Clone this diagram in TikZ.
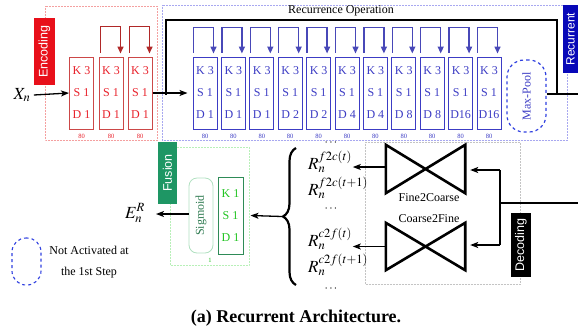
\documentclass[tikz,border=0pt]{standalone}
\usepackage{mathptmx}
\usepackage{fontspec}
\setmainfont{Liberation Serif}
\newfontfamily\lblsans{Liberation Sans}
\usetikzlibrary{arrows.meta,calc,decorations.pathreplacing}
\definecolor{encred}{HTML}{E8101A}
\definecolor{rbox}{HTML}{CC4848}
\definecolor{rtext}{HTML}{E8202A}
\definecolor{rloop}{HTML}{B02828}
\definecolor{rframe}{HTML}{F4A0A0}
\definecolor{bbox}{HTML}{3C3CC4}
\definecolor{bloop}{HTML}{4848B8}
\definecolor{bframe}{HTML}{A8A8F0}
\definecolor{recblue}{HTML}{0808B8}
\definecolor{dashblue}{HTML}{3040E0}
\definecolor{fusgreen}{HTML}{1E9664}
\definecolor{gborder}{HTML}{2E8B57}
\definecolor{gtext}{HTML}{22C422}
\definecolor{sigborder}{HTML}{B0E0C0}
\definecolor{sigtext}{HTML}{2E7A50}
\definecolor{fframe}{HTML}{B8F0B8}
\definecolor{dframe}{HTML}{C4C4C4}
\tikzset{
  kbox/.style={draw, line width=1pt, minimum width=24pt, minimum height=72pt, inner sep=0pt, align=center, font=\fontsize{12}{22}\selectfont},
  redbox/.style={kbox, draw=rbox, text=rtext},
  bluebox/.style={kbox, draw=bbox, text=bbox},
  numlbl/.style={font=\fontsize{6.5}{7}\selectfont, inner sep=0pt},
  rlooparr/.style={draw=rloop, line width=1.5pt, -{Triangle[length=7pt,width=6pt]}},
  blooparr/.style={draw=bloop, line width=1.5pt, -{Triangle[length=7pt,width=6pt]}},
  tag/.style={rotate=90, text=white, font=\lblsans\fontsize{12.5}{14}\selectfont, inner sep=0pt, anchor=center},
  frame/.style={densely dotted, line width=0.5pt},
  blk/.style={line width=1.3pt, -{Stealth[length=8pt,width=6pt,inset=2pt]}},
  bow/.style={line width=2.6pt, line join=miter},
  rlbl/.style={anchor=west, font=\fontsize{17}{18}\selectfont, inner sep=0pt},
}
\begin{document}
\begin{tikzpicture}[x=1pt,y=-1pt]
\useasboundingbox (0,0) rectangle (578,333);
% frames
\draw[frame, draw=rframe] (45,6) rectangle (157,140);
\draw[frame, draw=bframe] (162,5) rectangle (567,140);
\draw[frame, draw=fframe] (170,147) rectangle (249,265);
\draw[frame, draw=dframe] (365,142) rectangle (520,284);
% labels
\node[fill=encred, minimum width=21pt, minimum height=67pt, inner sep=0pt] (enc) at (44.5,51.5) {};
\node[tag] at (enc) {Encoding};
\node[fill=recblue, minimum width=15pt, minimum height=68pt, inner sep=0pt] (rec) at (570.5,39) {};
\node[tag, font=\lblsans\fontsize{12}{14}\selectfont] at (rec) {Recurrent};
\node[fill=fusgreen, minimum width=19pt, minimum height=62pt, inner sep=0pt] (fus) at (167.5,173) {};
\node[tag] at (fus) {Fusion};
\node[fill=black, minimum width=20pt, minimum height=64pt, inner sep=0pt] (dec) at (521,245) {};
\node[tag] at (dec) {Decoding};
\node[font=\fontsize{12}{14}\selectfont] (recop) at (341,11) {Recurrence Operation};
% input
\node[font=\fontsize{17}{18}\selectfont] (xn) at (22,95) {$X_n$};
% red boxes
\node[redbox] (r1) at (81.5,93) {K 3\\S 1\\D 1};
\node[redbox] (r2) at (111,93) {K 3\\S 1\\D 1};
\node[redbox] (r3) at (140,93) {K 3\\S 1\\D 1};
\foreach \i in {1,2,3} {\node[numlbl, text=rtext] (rn\i) at ($(r\i.south)+(0,7)$) {80};}
\foreach \i in {2,3} {
  \draw[rlooparr] ($(r\i.north west)+(2,-4)$) -- ++(0,-26) -| ($(r\i.north east)+(-3,-3)$);
}
% blue boxes
\foreach \d [count=\i from 1] in {1,1,1,2,2,4,4,8,8,16,16} {
  \pgfmathsetmacro{\cx}{205+28.4*(\i-1)}
  \ifnum\d<10
    \node[bluebox] (b\i) at (\cx,93) {K 3\\S 1\\D \d};
  \else
    \node[bluebox] (b\i) at (\cx,93) {K 3\\S 1\\D\d};
  \fi
  \node[numlbl, text=bbox] (bn\i) at ($(b\i.south)+(0,7)$) {80};
  \draw[blooparr] ($(b\i.north west)+(1,-4)$) -- ++(0,-25) -| ($(b\i.north east)+(-4,-3)$);
}
\node[draw=dashblue, dashed, line width=1.2pt, rounded corners=17pt, minimum width=39pt, minimum height=72pt, inner sep=0pt] (mp) at (526.5,96) {};
\node[rotate=90, text=bbox, font=\fontsize{12}{14}\selectfont] at (mp) {Max-Pool};
% black connections
\draw[blk] (xn.east) -- (r1.west);
\draw[blk] (r3.east) -- ($(b1.west)+(-5,0)$);
\coordinate (split) at (166,95);
\coordinate (rtop) at (557,20);
\coordinate (rout) at (578,94);
\draw[line width=1.3pt] (split) |- (rtop) -- (rtop |- rout);
\draw[line width=1.3pt] (mp.east |- rout) -- (rout);
% fusion
\node[draw=sigborder, line width=0.8pt, rounded corners=8pt, minimum width=24pt, minimum height=75pt, inner sep=0pt] (sig) at (201,215.5) {};
\node[rotate=90, text=sigtext, font=\fontsize{12}{14}\selectfont] at (sig) {Sigmoid};
\node[kbox, draw=gborder, text=gtext, minimum width=25pt, minimum height=77pt] (g1) at (230.5,215.5) {K 1\\S 1\\D 1};
\node[numlbl, text=gtext] (gn) at (210,260) {1};
\node[font=\fontsize{17}{18}\selectfont, inner sep=1pt] (en) at (135,213) {$E_n^R$};
\coordinate (entip) at (156,214);
\draw[blk] (sig.west |- entip) -- (entip);
% brace
\coordinate (brbot) at (296,285);
\coordinate (brtop) at (296,148);
\coordinate (brtip) at (282,216.5);
\draw[line width=2.2pt, decorate, decoration={brace, amplitude=13pt, aspect=0.5}] (brbot) -- (brtop);
\draw[blk] (brtip) -- ($(g1.east)+(7,0)$);
% R labels
\node[rlbl] (rf1) at (308,162) {$R_n^{f2c(t)}$};
\node[rlbl] (rf2) at (308,188) {$R_n^{f2c(t+1)}$};
\node[rlbl] (rc1) at (308,239) {$R_n^{c2f(t)}$};
\node[rlbl] (rc2) at (308,265) {$R_n^{c2f(t+1)}$};
\node[font=\fontsize{12}{12}\selectfont, inner sep=0pt] (d1) at (331,143) {$\cdots$};
\node[font=\fontsize{12}{12}\selectfont, inner sep=0pt] (d2) at (331,209) {$\cdots$};
\node[font=\fontsize{12}{12}\selectfont, inner sep=0pt] (d3) at (331,289) {$\cdots$};
% bowties
\node[minimum width=79pt, minimum height=48pt, inner sep=0pt] (f2c) at (425.5,169) {};
\node[minimum width=79pt, minimum height=47pt, inner sep=0pt] (c2f) at (425.5,246.5) {};
\draw[bow] (f2c.north west) -- (f2c.south east) -- (f2c.north east) -- (f2c.south west) -- cycle;
\draw[bow] (c2f.north west) -- (c2f.south east) -- (c2f.north east) -- (c2f.south west) -- cycle;
\node[font=\fontsize{12}{14}\selectfont] (f2ct) at (429,198) {Fine2Coarse};
\node[font=\fontsize{12}{14}\selectfont] (c2ft) at (429,219) {Coarse2Fine};
\draw[blk] ($(f2c.west)+(0,-2)$) -- ($(f2c.west)+(-33,-2)$);
\draw[blk] (c2f.west) -- ($(c2f.west)+(-33,0)$);
% decoding input
\coordinate (din) at (578,203);
\coordinate (dsplit) at (500,203);
\draw[line width=1.3pt] (din) -- (dsplit);
\draw[line width=1.3pt] (dsplit |- 0,170) -- (dsplit |- 0,245);
\draw[blk] (dsplit |- 0,170) -- ($(f2c.east |- 0,170)+(5,0)$);
\draw[blk] (dsplit |- 0,245) -- ($(c2f.east |- 0,245)+(5,0)$);
% legend
\node[draw=dashblue, dashed, line width=1.1pt, rounded corners=14pt, minimum width=29pt, minimum height=47pt, inner sep=0pt] (leg) at (26.5,261.5) {};
\node[align=center, font=\fontsize{12}{21}\selectfont] (legt) at (89,262.5) {Not Activated at\\the 1st Step};
% caption
\node[font=\bfseries\fontsize{18}{20}\selectfont] (cap) at (296,318) {(a) Recurrent Architecture.};
\end{tikzpicture}
\end{document}
